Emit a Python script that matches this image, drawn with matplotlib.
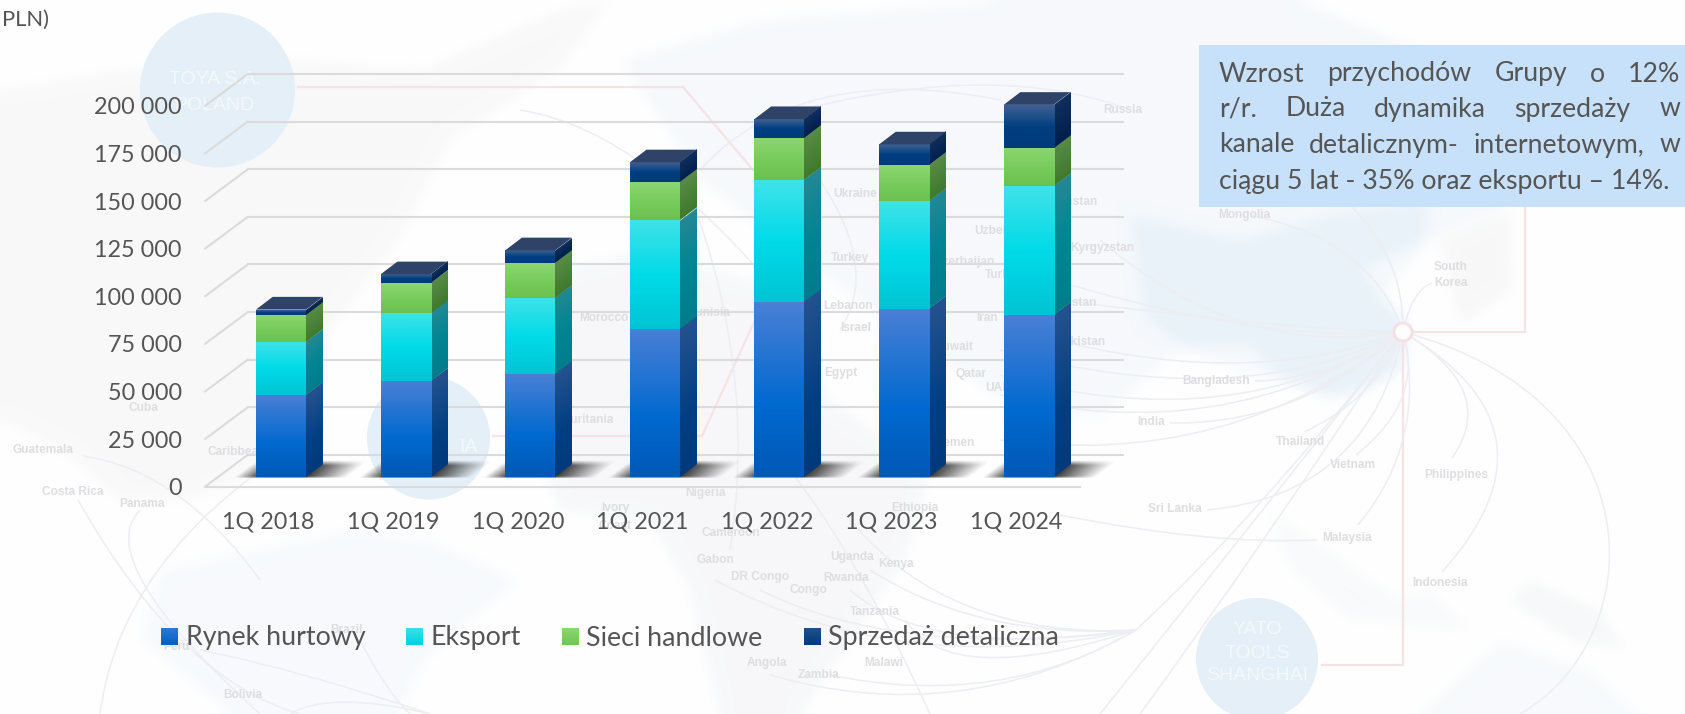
import numpy as np
import matplotlib
matplotlib.use("Agg")
import matplotlib.pyplot as plt
from matplotlib.colors import LinearSegmentedColormap, to_rgb
from matplotlib.patches import Circle, PathPatch, Polygon, Patch
from matplotlib.path import Path
from matplotlib.transforms import Affine2D, IdentityTransform

# ---------- data ----------
categories = ["1Q 2018", "1Q 2019", "1Q 2020", "1Q 2021", "1Q 2022", "1Q 2023", "1Q 2024"]
rynek_hurtowy = [43200, 50500, 54500, 78150, 92100, 88300, 85100]
eksport = [27950, 35900, 39900, 56800, 63800, 56600, 67700]
sieci_handlowe = [14350, 15700, 18350, 19950, 22400, 18900, 20400]
sprzedaz_detaliczna = [2600, 4500, 6450, 10500, 9800, 11000, 22400]
series_names = ["Rynek hurtowy", "Eksport", "Sieci handlowe", "Sprzedaż detaliczna"]
y_ticks = [0, 25000, 50000, 75000, 100000, 125000, 150000, 175000, 200000]
y_labels = ["0", "25 000", "50 000", "75 000", "100 000", "125 000", "150 000", "175 000", "200 000"]
note_lines = ["Wzrost przychodów Grupy o 12%",
              "r/r. Duża dynamika sprzedaży w",
              "kanale detalicznym- internetowym, w",
              "ciągu 5 lat - 35% oraz eksportu – 14%."]

W, H = 1685, 714
TXT = "#555555"
plt.rcParams["font.family"] = ["Lato", "DejaVu Sans"]

# ---------- soft land shapes of the watermark, rendered apart and blurred ----------
land = [
    ("#f9f9f9", [(0, 90), (120, 70), (300, 60), (420, 70), (560, 10), (610, 0), (560, 70), (450, 140),
                 (400, 240), (330, 330), (290, 440), (250, 480), (190, 500), (120, 500), (60, 450), (0, 420)]),
    ("#f7fafd", [(350, 530), (430, 540), (520, 580), (425, 660), (400, 714), (230, 714), (140, 640), (160, 570)]),
    ("#f7f8fa", [(520, 280), (640, 250), (790, 290), (830, 400), (930, 470), (905, 560), (850, 640), (800, 714),
                 (720, 714), (690, 590), (650, 520), (560, 510), (520, 420)]),
    ("#f6f9fc", [(620, 60), (760, 20), (1000, 0), (1300, 0), (1450, 60), (1560, 120), (1500, 210), (1430, 240),
                 (1380, 300), (1400, 370), (1330, 400), (1180, 350), (1100, 420), (1000, 400), (900, 330),
                 (800, 260), (700, 180)]),
    ("#e9f2f9", [(1130, 215), (1240, 240), (1330, 215), (1428, 200), (1425, 240), (1362, 270), (1384, 300),
                 (1410, 325), (1402, 370), (1361, 392), (1331, 397), (1275, 373), (1249, 345), (1182, 347),
                 (1145, 317)]),
    ("#f8f8f8", [(1440, 240), (1510, 210), (1512, 290), (1460, 325)]),
    ("#f7f8f9", [(1530, 580), (1600, 610), (1625, 650), (1570, 640), (1510, 600)]),
    ("#f7fafc", [(1420, 714), (1500, 640), (1590, 670), (1640, 714)]),
    ("#f9fafb", [(1270, 510), (1400, 600), (1430, 590), (1470, 630), (1350, 620), (1290, 570)]),
]
tmp = plt.figure(figsize=(W / 100, H / 100), dpi=100, facecolor="white")
tax = tmp.add_axes([0, 0, 1, 1])
tax.set_xlim(0, W)
tax.set_ylim(H, 0)
tax.axis("off")
for col, pts in land:
    tax.add_patch(Polygon(pts, closed=True, fc=col, ec="none"))
tmp.canvas.draw()
land_img = np.asarray(tmp.canvas.buffer_rgba())[..., :3].astype(float) / 255
plt.close(tmp)
kernel = np.ones(15) / 15
for axis in (0, 1):
    for _ in range(2):
        pad = [(0, 0)] * 3
        pad[axis] = (7, 7)
        padded = np.pad(land_img, pad, mode="edge")
        land_img = np.apply_along_axis(lambda v: np.convolve(v, kernel, mode="valid"), axis, padded)

fig = plt.figure(figsize=(W / 100, H / 100), dpi=100, facecolor="white")

# ---------- watermark background, in pixel coordinates ----------
bg = fig.add_axes([0, 0, 1, 1], zorder=0)
bg.imshow(land_img, extent=(0, W, H, 0), aspect="auto", zorder=1, interpolation="nearest")
bg.set_xlim(0, W)
bg.set_ylim(H, 0)
bg.axis("off")

circles = [(217.5, 90, 77.5), (428.5, 438, 61.5), (1257, 659, 61)]
for cx, cy, r in circles:
    bg.add_patch(Circle((cx, cy), r, fc="#e4eff7", ec="none", zorder=2))
bg.text(215, 80, "TOYA S.A.", color="#f3f8fb", fontsize=14, ha="center", va="center", zorder=3, family="Liberation Sans")
bg.text(215, 105, "POLAND", color="#f3f8fb", fontsize=14, ha="center", va="center", zorder=3, family="Liberation Sans")
bg.text(478, 448, "IA", color="#f3f8fb", fontsize=14, ha="right", va="center", zorder=3, family="Liberation Sans")
for yy, s in zip((630, 653, 676), ("YATO", "TOOLS", "SHANGHAI")):
    bg.text(1257, yy, s, color="#f3f8fb", fontsize=14, ha="center", va="center", zorder=3, family="Liberation Sans")

PINK = "#f7e2e5"
for pts in ([(298, 87), (683, 87), (753, 170)],
            [(493, 436), (702, 436), (755, 320), (755, 175)],
            [(1403, 332), (1525, 332), (1525, 207)],
            [(1403, 332), (1403, 665), (1322, 665)]):
    xs, ys = zip(*pts)
    bg.plot(xs, ys, color=PINK, lw=1.6, zorder=3, solid_joinstyle="miter")

HUB = (1403, 332)
curves = [
    [HUB, (1372, 240), (1250, 215)], [HUB, (1412, 290), (1432, 283)], [HUB, (1405, 260), (1350, 205)],
    [HUB, (1500, 390), (1452, 458)], [HUB, (1570, 430), (1442, 572)], [HUB, (1428, 440), (1358, 525)],
    [HUB, (1425, 400), (1356, 455)], [HUB, (1375, 400), (1304, 432)], [HUB, (1370, 495), (1207, 510)],
    [HUB, (1330, 380), (1255, 381)], [HUB, (1300, 425), (1170, 423)], [(1317, 540), (1210, 545), (1060, 515)],
    [HUB, (1290, 330), (1060, 300)], [HUB, (1260, 345), (1020, 270)], [HUB, (1240, 360), (1100, 240)],
    [HUB, (1240, 395), (1020, 330)], [HUB, (1240, 415), (1000, 350)], [HUB, (1230, 440), (1000, 375)],
    [HUB, (1220, 450), (1000, 395)], [HUB, (1230, 470), (1000, 440)],
    [HUB, (1250, 525), (1136, 630)], [HUB, (1240, 540), (1100, 714)], [HUB, (1260, 550), (1140, 714)],
    [(1136, 630), (950, 640), (850, 520)], [(1136, 630), (980, 640), (870, 570)], [(1136, 630), (930, 660), (850, 590)],
    [(1136, 630), (900, 680), (715, 580)], [(1136, 630), (900, 660), (760, 590)], [(1136, 630), (950, 690), (905, 620)],
    [(1136, 630), (960, 730), (770, 675)], [(1136, 630), (1000, 710), (830, 675)],
    [(930, 714), (860, 560), (790, 470)], [(800, 320), (650, 130), (520, 110)],
    [(1000, 100), (800, 60), (700, 170)], [(1130, 110), (1000, 60), (800, 110)],
    [(680, 170), (760, 360), (730, 550)], [(820, 180), (880, 270), (840, 330)],
    [(83, 456), (180, 470), (260, 580)], [(78, 500), (180, 680), (300, 714)], [(140, 510), (90, 560), (260, 714)],
    [(100, 714), (120, 560), (290, 450)], [(290, 714), (330, 690), (430, 714)],
    [(360, 640), (385, 690), (410, 714)], [(200, 650), (300, 670), (430, 714)],
]
CURVE = "#edeef3"
for p0, c, p1 in curves:
    bg.add_patch(PathPatch(Path([p0, c, p1], [Path.MOVETO, Path.CURVE3, Path.CURVE3]), fc="none",
                           ec=CURVE, lw=1.1, zorder=3))
bg.add_patch(PathPatch(Path([HUB, (1660, 400), (1650, 640), (1520, 714)],
                            [Path.MOVETO, Path.CURVE4, Path.CURVE4, Path.CURVE4]),
                       fc="none", ec=CURVE, lw=1.1, zorder=3))
bg.add_patch(Circle(HUB, 9, fc="#fdfdfd", ec="#f6dfe3", lw=2, zorder=4))

labels = [
    (1123, 110, "Russia", "center"), (1244, 215, "Mongolia", "center"), (1451, 267, "South", "center"),
    (1451, 283, "Korea", "center"), (1216, 381, "Bangladesh", "center"), (1151, 422, "India", "center"),
    (1300, 442, "Thailand", "center"), (1353, 465, "Vietnam", "center"), (1456, 475, "Philippines", "center"),
    (1175, 509, "Sri Lanka", "center"), (1347, 538, "Malaysia", "center"), (1440, 583, "Indonesia", "center"),
    (855, 194, "Ukraine", "center"), (850, 258, "Turkey", "center"), (848, 306, "Lebanon", "center"),
    (856, 328, "Israel", "center"), (841, 373, "Egypt", "center"), (974, 231, "Uzbekistan", "left"),
    (995, 262, "Azerbaijan", "right"), (985, 275, "Turkmenistan", "left"), (987, 318, "Iran", "center"),
    (973, 347, "Kuwait", "right"), (971, 374, "Qatar", "center"), (985, 388, "UAE", "left"),
    (975, 443, "Yemen", "right"), (1098, 202, "Kazakhstan", "right"), (1134, 248, "Kyrgyzstan", "right"),
    (1097, 303, "Tajikistan", "right"), (1105, 342, "Pakistan", "right"), (579, 318, "Morocco", "left"),
    (731, 313, "Tunisia", "right"), (614, 420, "Mauritania", "right"), (207, 452, "Caribbean", "left"),
    (43, 450, "Guatemala", "center"), (73, 492, "Costa Rica", "center"), (142, 504, "Panama", "center"),
    (143, 408, "Cuba", "center"), (346, 630, "Brazil", "center"), (176, 647, "Peru", "center"),
    (243, 695, "Bolivia", "center"), (705, 493, "Nigeria", "center"), (915, 508, "Ethiopia", "center"),
    (615, 508, "Ivory", "center"), (615, 526, "Coast", "center"), (731, 533, "Cameroon", "center"),
    (715, 560, "Gabon", "center"), (760, 577, "DR Congo", "center"), (808, 590, "Congo", "center"),
    (852, 557, "Uganda", "center"), (896, 564, "Kenya", "center"), (846, 578, "Rwanda", "center"),
    (875, 612, "Tanzania", "center"), (767, 663, "Angola", "center"), (819, 675, "Zambia", "center"),
    (884, 663, "Malawi", "center"),
]
for x, y, s, ha in labels:
    bg.text(x, y, s, fontsize=8.6, color="#dedee1", ha=ha, va="center", zorder=5,
            family="Liberation Sans", fontweight="bold")

# ---------- chart axes: its plane is the front edge of the 3-D floor ----------
PX_LEFT, PX_RIGHT, PX_ZERO, PX_TOP = 205, 1080, 486.7, 105.9
CAT0, CATSTEP = 268.6, 124.6
ax = fig.add_axes([PX_LEFT / W, (H - PX_ZERO) / H, (PX_RIGHT - PX_LEFT) / W, (PX_ZERO - PX_TOP) / H], zorder=1)
ax.patch.set_visible(False)
ax.set_xlim((PX_LEFT - CAT0) / CATSTEP, (PX_RIGHT - CAT0) / CATSTEP)
ax.set_ylim(0, 200000)
for s in ax.spines.values():
    s.set_visible(False)
TICK_FS = 16.8
ax.set_xticks(range(len(categories)), categories)
ax.set_yticks(y_ticks, y_labels)
ax.tick_params(axis="y", length=0, pad=16.6, labelsize=TICK_FS, labelcolor=TXT)
ax.tick_params(axis="x", length=0, pad=18, labelsize=TICK_FS, labelcolor=TXT)

GRID = "#dbdbdb"
BACK_DX, BACK_DY = 43, 32
back = ax.transData + Affine2D().translate(BACK_DX, BACK_DY)
x0, x1 = ax.get_xlim()
for v in y_ticks:
    ax.plot([x0, x1], [v, v], color=GRID, lw=1.5, transform=back, clip_on=False, zorder=1)
    ax.annotate("", xy=(BACK_DX, BACK_DY), xycoords=Affine2D().translate(*ax.transData.transform((x0, v))),
                xytext=(0, 0), textcoords=Affine2D().translate(*ax.transData.transform((x0, v))),
                arrowprops=dict(arrowstyle="-", color=GRID, lw=1.5, shrinkA=0, shrinkB=0), zorder=1)
ax.plot([x0, x1], [0, 0], color=GRID, lw=1.5, clip_on=False, zorder=1)


def ramp(stops):
    return LinearSegmentedColormap.from_list("g", [(p, c) for p, c in stops])


GRAD = np.linspace(0, 1, 128).reshape(-1, 1)  # row 0 is the bottom of the face


def face(p0, pu, pv, cmap, z):
    t = Affine2D.from_values(pu[0] - p0[0], pu[1] - p0[1], pv[0] - p0[0], pv[1] - p0[1], p0[0], p0[1])
    ax.imshow(GRAD, cmap=cmap, vmin=0, vmax=1, extent=(0, 1, 0, 1), origin="lower", aspect="auto",
              transform=t, clip_on=False, zorder=z, interpolation="bilinear")


front_cmaps = [
    ramp([(0, "#0058b6"), (0.4, "#0069cf"), (1, "#4a80d6")]),
    ramp([(0, "#00c4d4"), (0.5, "#00dbe8"), (1, "#40e2e8")]),
    ramp([(0, "#6cc04f"), (0.5, "#78cc5c"), (1, "#8cd672")]),
    ramp([(0, "#013b7c"), (0.5, "#013f80"), (1, "#3f6193")]),
]
side_cmaps = [
    ramp([(0, "#003a7c"), (0.4, "#023f82"), (1, "#25528f")]),
    ramp([(0, "#007d8c"), (0.5, "#008592"), (1, "#248895")]),
    ramp([(0, "#3f7a2c"), (1, "#598b47")]),
    ramp([(0, "#001f4d"), (1, "#102f5c")]),
]
swatch_cmaps = [
    ramp([(0, "#0060c2"), (1, "#2f78d5")]), ramp([(0, "#00d2e0"), (1, "#38e0e8")]),
    ramp([(0, "#6fc554"), (1, "#8cd672")]), ramp([(0, "#013b7c"), (1, "#23508a")]),
]

BAR_W = 50 / CATSTEP
BAR_DX, BAR_DY = 12.4, 9.4
DEPTH_X, DEPTH_Y = 16.7, 12.7
stack = np.array([rynek_hurtowy, eksport, sieci_handlowe, sprzedaz_detaliczna], dtype=float)
tops = stack.cumsum(axis=0)
to_px = ax.transData.transform

# soft floor shadows
sh = np.ones((24, 128, 4))
sh[..., :3] = 0.16
hx = np.interp(np.linspace(0, 1, 128), [0, 0.22, 0.62, 1], [0, 0.95, 0.95, 0])
hy = np.interp(np.linspace(0, 1, 24), [0, 0.08, 0.7, 1], [0.4, 1, 0.9, 0])
sh[..., 3] = np.outer(hy, hx)
for i in range(len(categories)):
    bx, by = to_px((i - BAR_W / 2, 0)) + np.array([BAR_DX, BAR_DY])
    p0 = (bx - 23, by - 1)
    t = Affine2D.from_values(113, 0, 24, 18, p0[0], p0[1])
    ax.imshow(sh, extent=(0, 1, 0, 1), origin="lower", aspect="auto", transform=t, clip_on=False,
              zorder=2, interpolation="bilinear")

for i in range(len(categories)):
    bottom = 0.0
    for k in range(len(series_names)):
        top = tops[k, i]
        bl = to_px((i - BAR_W / 2, bottom)) + np.array([BAR_DX, BAR_DY])
        br = to_px((i + BAR_W / 2, bottom)) + np.array([BAR_DX, BAR_DY])
        tl = to_px((i - BAR_W / 2, top)) + np.array([BAR_DX, BAR_DY])
        tr = to_px((i + BAR_W / 2, top)) + np.array([BAR_DX, BAR_DY])
        d = np.array([DEPTH_X, DEPTH_Y])
        face(br, br + d, tr, side_cmaps[k], 3 + 0.1 * k)
        face(bl, br, tl, front_cmaps[k], 3.05 + 0.1 * k)
        bottom = top
    ax.add_patch(Polygon([tl, tr, tr + d, tl + d], closed=True, fc="#2f4268", ec="none",
                         transform=IdentityTransform(), clip_on=False, zorder=4))

# legend
handles = [Patch(fc=to_rgb("#0068cc"), ec="none", label=n) for n in series_names]
LEG_SIZE = 19.3
LEG_PX = LEG_SIZE * 100 / 72
leg = fig.legend(handles=handles, ncols=4, loc="center left", bbox_to_anchor=(161 / W, 1 - 638 / H),
                 frameon=False, fontsize=LEG_SIZE, labelcolor=TXT, borderpad=0, borderaxespad=0,
                 handlelength=17 / LEG_PX, handleheight=16 / LEG_PX, handletextpad=7.5 / LEG_PX,
                 columnspacing=41 / LEG_PX)

fig.canvas.draw()
for hnd, cm in zip(leg.legend_handles, swatch_cmaps):
    e = hnd.get_window_extent()
    ax.imshow(GRAD, cmap=cm, origin="lower", aspect="auto", extent=(e.x0, e.x1, e.y0, e.y1),
              transform=IdentityTransform(), clip_on=False, zorder=10, vmin=0, vmax=1)
    hnd.set_visible(False)

# annotation box and clipped heading, in pixel coordinates
over = fig.add_axes([0, 0, 1, 1], zorder=3)
over.set_xlim(0, W)
over.set_ylim(H, 0)
over.axis("off")
over.add_patch(Polygon([(1199, 45), (W, 45), (W, 206.7), (1199, 206.7)], closed=True, fc="#c8e1fa", ec="none"))
NOTE_FS = 19.2
rend = fig.canvas.get_renderer()


def width(s):
    t = over.text(0, 0, s, fontsize=NOTE_FS)
    w = t.get_window_extent(rend).width
    t.remove()
    return w


LX, RX = 1219, 1680
for line, yy, just in zip(note_lines, (74, 109, 145, 181), (True, True, True, False)):
    if just:
        words = line.split(" ")
        ws = [width(w_) for w_ in words]
        gap = (RX - LX - sum(ws)) / (len(words) - 1)
        xx = LX
        for w_, wd in zip(words, ws):
            over.text(xx, yy, w_, fontsize=NOTE_FS, color=TXT, va="center", ha="left")
            xx += wd + gap
    else:
        over.text(LX, yy, line, fontsize=NOTE_FS, color=TXT, va="center", ha="left")
over.text(2, 20, "PLN)", fontsize=15.8, color=TXT, va="center", ha="left")

fig.savefig("out.png", dpi=100)
